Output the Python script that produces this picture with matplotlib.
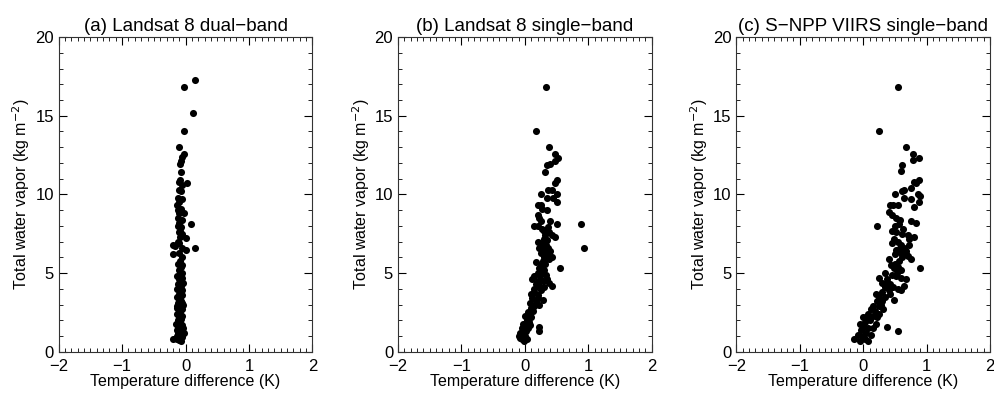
import matplotlib.pyplot as plt
from matplotlib.ticker import MultipleLocator

plt.rcParams['font.family'] = ['Liberation Sans', 'DejaVu Sans']

titles = ['(a) Landsat 8 dual\u2212band', '(b) Landsat 8 single\u2212band', '(c) S\u2212NPP VIIRS single\u2212band']

# (a) Landsat 8 dual-band
a_x = [0.15, -0.03, 0.12, -0.03, -0.10, -0.03, -0.05, -0.07, -0.08, -0.07,
       -0.08, 0.03, -0.10, -0.05, -0.10, -0.07, -0.12, -0.05, -0.10, -0.13,
       -0.07, -0.03, -0.10, -0.12, -0.05, -0.10, 0.08, -0.12, -0.07, -0.10,
       -0.05, 0.00, -0.08, -0.12, -0.20, -0.17, 0.15, 0.00, -0.05, -0.20,
       -0.10, -0.05, -0.08, -0.12, -0.07, -0.10, -0.05, -0.09, -0.13, -0.06,
       -0.11, -0.08, -0.04, -0.12, -0.07, -0.10, -0.14, -0.06, -0.09, -0.11,
       -0.05, -0.13, -0.08, -0.10, -0.07, -0.12, -0.04, -0.09, -0.14, -0.06,
       -0.11, -0.08, -0.13, -0.05, -0.10, -0.07, -0.12, -0.09, -0.15, -0.06,
       -0.11, -0.04, -0.08, -0.13, -0.10, -0.07, -0.12, -0.05, -0.09, -0.14,
       -0.06, -0.11, -0.08, -0.03, -0.13, -0.10, -0.07, -0.20, -0.12, -0.09,
       -0.05, -0.14, -0.06, -0.10, -0.08, -0.12]
a_y = [17.3, 16.8, 15.2, 14.0, 13.0, 12.6, 12.4, 12.1, 11.95, 11.4,
       10.9, 10.75, 10.8, 10.6, 10.3, 10.2, 9.8, 9.7, 9.5, 9.3,
       9.1, 8.8, 8.8, 8.5, 8.4, 8.2, 8.1, 8.0, 7.9, 7.6,
       7.5, 7.25, 7.3, 7.0, 6.8, 6.7, 6.6, 6.5, 6.6, 6.2,
       6.3, 6.0, 5.8, 5.6, 5.4, 5.2, 5.0, 4.9, 4.8, 4.7,
       4.6, 4.5, 4.4, 4.3, 4.2, 4.1, 4.0, 3.9, 3.8, 3.7,
       3.6, 3.5, 3.4, 3.3, 3.2, 3.1, 3.0, 2.9, 2.8, 2.7,
       2.6, 2.5, 2.4, 2.3, 2.2, 2.1, 2.0, 1.9, 1.8, 1.7,
       1.6, 1.5, 1.45, 1.4, 1.3, 1.25, 1.2, 1.1, 1.05, 1.0,
       0.95, 0.9, 0.85, 1.2, 0.8, 0.75, 0.7, 0.8, 1.5, 2.2,
       3.1, 2.9, 5.5, 6.9, 7.7, 9.0]

# (b) Landsat 8 single-band
b_x = [0.33, 0.18, 0.38, 0.47, 0.52, 0.47, 0.35, 0.40, 0.32, 0.50,
       0.47, 0.37, 0.42, 0.25, 0.50, 0.45, 0.35, 0.50, 0.20, 0.25,
       0.27, 0.35, 0.20, 0.22, 0.25, 0.40, 0.50, 0.15, 0.20, 0.27,
       0.30, 0.38, 0.42, 0.47, 0.88, 0.93, 0.30, 0.35, 0.20, 0.27,
       0.33, 0.22, 0.37, 0.30, 0.40, 0.25, 0.35, 0.42, 0.30, 0.38,
       0.28, 0.32, 0.25, 0.22, 0.55, 0.30, 0.20, 0.27, 0.15, 0.24,
       0.33, 0.12, 0.20, 0.28, 0.38, 0.43, 0.17, 0.23, 0.30, 0.35,
       0.25, 0.15, 0.10, 0.20, 0.28, 0.12, 0.17, 0.08, 0.15, 0.22,
       0.10, 0.13, 0.05, 0.07, 0.00, 0.10, 0.03, 0.06, -0.03, 0.00,
       -0.05, 0.05, 0.02, -0.07, -0.03, 0.00, -0.08, -0.05, 0.03, -0.02,
       0.23, 0.23, -0.10, 0.08, 0.18, 0.26, 0.32, 0.14, 0.21, 0.36]
b_y = [16.8, 14.0, 13.0, 12.6, 12.3, 12.1, 11.9, 11.95, 11.4, 10.9,
       10.7, 10.3, 10.3, 10.0, 10.0, 9.8, 9.75, 9.5, 9.3, 9.3,
       9.1, 9.0, 8.7, 8.5, 8.3, 8.3, 8.1, 8.0, 8.0, 7.8,
       7.7, 7.6, 7.4, 7.3, 8.1, 6.6, 7.2, 7.1, 7.0, 6.9,
       6.8, 6.6, 6.6, 6.5, 6.4, 6.3, 6.2, 6.0, 6.0, 5.9,
       5.8, 5.6, 5.5, 5.3, 5.3, 5.2, 5.0, 5.0, 4.8, 4.8,
       4.9, 4.6, 4.5, 4.5, 4.4, 4.2, 4.3, 4.2, 4.1, 4.6,
       3.9, 3.8, 3.7, 3.6, 3.3, 3.4, 3.2, 3.1, 2.9, 3.0,
       2.8, 2.6, 2.5, 2.3, 2.3, 2.2, 2.0, 1.9, 1.8, 1.7,
       1.5, 1.5, 1.3, 1.2, 1.1, 1.0, 0.9, 0.8, 0.8, 0.7,
       1.6, 1.3, 1.0, 1.7, 5.7, 6.7, 7.4, 4.0, 3.4, 7.9]

# (c) S-NPP VIIRS single-band
c_x = [0.55, 0.25, 0.68, 0.78, 0.88, 0.78, 0.62, 0.60, 0.88, 0.80,
       0.83, 0.75, 0.65, 0.62, 0.50, 0.87, 0.90, 0.88, 0.75, 0.65,
       0.42, 0.47, 0.55, 0.80, 0.40, 0.45, 0.52, 0.58, 0.57, 0.50,
       0.22, 0.75, 0.83, 0.45, 0.52, 0.62, 0.70, 0.73, 0.80, 0.48,
       0.55, 0.60, 0.65, 0.45, 0.52, 0.60, 0.68, 0.62, 0.70, 0.75,
       0.57, 0.50, 0.40, 0.55, 0.60, 0.48, 0.90, 0.35, 0.45, 0.52,
       0.60, 0.38, 0.25, 0.30, 0.42, 0.47, 0.55, 0.35, 0.40, 0.60,
       0.68, 0.65, 0.30, 0.20, 0.25, 0.35, 0.42, 0.48, 0.30, 0.22,
       0.15, 0.25, 0.32, 0.12, 0.18, 0.25, 0.08, 0.15, 0.22, 0.05,
       0.10, 0.00, 0.03, -0.05, 0.02, 0.08, 0.15, -0.03, 0.05, 0.12,
       -0.08, 0.00, 0.03, -0.05, -0.15, 0.07, 0.38, 0.55, 0.20, 0.58,
       0.67, 0.50, 0.44, 0.37, 0.28, 0.72, 0.63, 0.53]
c_y = [16.8, 14.0, 13.0, 12.6, 12.3, 12.2, 11.9, 11.5, 10.9, 10.8,
       10.7, 10.4, 10.3, 10.2, 10.0, 10.0, 9.9, 9.5, 9.7, 9.8,
       9.3, 9.3, 9.3, 9.2, 8.9, 8.7, 8.5, 8.4, 8.1, 8.0,
       8.0, 8.3, 8.2, 7.7, 7.6, 7.5, 7.4, 7.2, 7.3, 7.2,
       7.0, 6.8, 6.6, 6.9, 6.5, 6.3, 6.2, 6.0, 6.1, 5.9,
       5.8, 5.6, 5.9, 5.4, 5.2, 5.3, 5.3, 5.0, 4.9, 4.8,
       4.7, 4.6, 4.7, 4.4, 4.3, 4.1, 4.0, 4.1, 3.9, 3.9,
       4.6, 4.2, 3.8, 3.7, 3.5, 3.5, 3.7, 3.3, 3.2, 3.2,
       2.9, 2.9, 2.7, 2.7, 2.6, 2.4, 2.4, 2.3, 2.2, 2.2,
       2.0, 2.2, 1.9, 1.8, 1.6, 1.5, 1.5, 1.4, 1.2, 1.1,
       1.1, 1.0, 0.8, 0.7, 0.8, 0.7, 1.6, 1.3, 1.8, 6.6,
       6.4, 6.2, 5.5, 4.4, 3.0, 6.8, 7.8, 5.0]

series = [(a_x, a_y), (b_x, b_y), (c_x, c_y)]
lefts = [0.059, 0.400, 0.740]

fig = plt.figure(figsize=(9.95, 3.94), dpi=100)
for left, title, (xs, ys) in zip(lefts, titles, series):
    ax = fig.add_axes([left, 0.107, 0.255, 0.799])
    ax.scatter(xs, ys, s=26, color='black', linewidths=0)
    ax.set_xlim(-2, 2)
    ax.set_ylim(0, 20)
    ax.xaxis.set_major_locator(MultipleLocator(1))
    ax.xaxis.set_minor_locator(MultipleLocator(0.1))
    ax.yaxis.set_major_locator(MultipleLocator(5))
    ax.yaxis.set_minor_locator(MultipleLocator(1))
    ax.tick_params(which='both', direction='in', top=True, right=True, labelsize=12)
    ax.tick_params(axis='x', pad=5)
    ax.tick_params(which='major', length=6, width=0.8)
    ax.tick_params(which='minor', length=3, width=0.6)
    for sp in ax.spines.values():
        sp.set_linewidth(0.8)
        sp.set_color('#333333')
    ax.set_title(title, fontsize=13.5, pad=4)
    ax.set_xlabel('Temperature difference (K)', fontsize=11.5, labelpad=0)
    ax.set_ylabel('Total water vapor (kg m$^{-2}$)', fontsize=11.5, labelpad=2)

fig.savefig('out.png', dpi=100)
